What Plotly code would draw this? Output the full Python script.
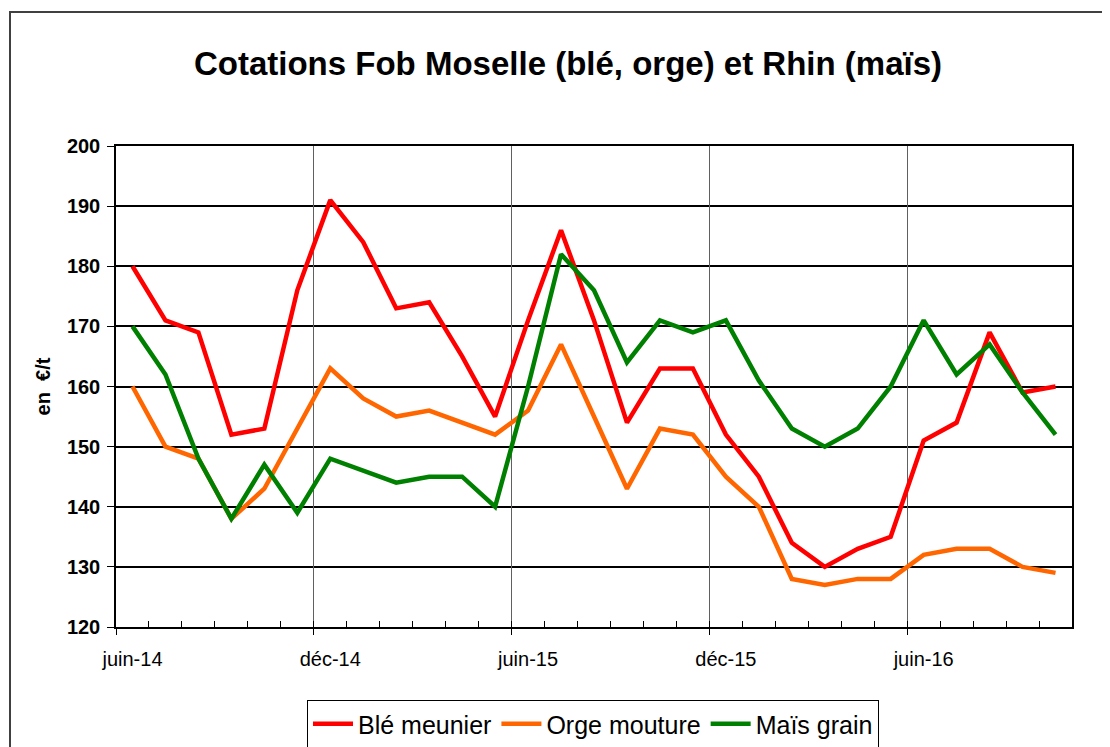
import plotly.graph_objects as go

# ---------------- data ----------------
months = ["juin-14", "juil-14", "août-14", "sept-14", "oct-14", "nov-14",
          "déc-14", "janv-15", "févr-15", "mars-15", "avr-15", "mai-15",
          "juin-15", "juil-15", "août-15", "sept-15", "oct-15", "nov-15",
          "déc-15", "janv-16", "févr-16", "mars-16", "avr-16", "mai-16",
          "juin-16", "juil-16", "août-16", "sept-16", "oct-16"]

ble_meunier = [180, 171, 169, 152, 153, 176, 191, 184, 173, 174, 165, 155,
               171, 186, 171, 154, 163, 163, 152, 145, 134, 130, 133, 135,
               151, 154, 169, 159, 160]
orge_mouture = [160, 150, 148, 138, 143, 153, 163, 158, 155, 156, 154, 152,
                156, 167, 155, 143, 153, 152, 145, 140, 128, 127, 128, 128,
                132, 133, 133, 130, 129]
mais_grain = [170, 162, 148, 138, 147, 139, 148, 146, 144, 145, 145, 140,
              160, 182, 176, 164, 171, 169, 171, 161, 153, 150, 153, 160,
              171, 162, 167, 159, 152]

series_names = ["Blé meunier", "Orge mouture", "Maïs grain"]
series_colors = ["#FF0000", "#FF6600", "#008000"]

label_step = 6
y_min, y_max, y_step = 120, 200, 10

title_text = "Cotations Fob Moselle (blé, orge) et Rhin (maïs)"
y_title = "en\u00a0 €/t"

# ---------------- layout geometry (page has an 8px body margin) ----------------
OFF = 8
W, H = 1110 - OFF, 747 - OFF
ML, MT = 116 - OFF, 146 - OFF
MR = W - (1072 - OFF)
MB = H - (627 - OFF)
plot_w = W - ML - MR
plot_h = H - MT - MB

n = len(months)
xs = list(range(n))
x_range = [-0.5, n - 0.5]
label_idx = list(range(0, n, label_step))
label_txt = [months[i] for i in label_idx]
grid_idx = [i - 0.5 for i in label_idx]
minor_idx = [i - 0.5 for i in range(n + 1)]

FONT = "Arial, Liberation Sans, Helvetica, sans-serif"

fig = go.Figure()
for name, vals, col in zip(series_names, [ble_meunier, orge_mouture, mais_grain], series_colors):
    fig.add_trace(go.Scatter(x=xs, y=vals, mode="lines", name=name,
                             line=dict(color=col, width=4.5)))

# invisible traces anchoring the overlaid grid / tick axes
for ax in ["x2", "x3"]:
    fig.add_trace(go.Scatter(x=xs, y=ble_meunier, mode="lines", xaxis=ax,
                             line=dict(width=0), opacity=0, showlegend=False,
                             hoverinfo="skip"))

# outer frame of the chart area
fx0 = (10 - OFF - ML) / plot_w
fx1 = (W + 20 - ML) / plot_w
fy1 = (H - MB - (12 - OFF)) / plot_h
fy0 = (H - MB - (H + 20)) / plot_h

fig.update_layout(
    width=W, height=H,
    margin=dict(l=ML, r=MR, t=MT, b=MB, autoexpand=False),
    paper_bgcolor="white", plot_bgcolor="white",
    font=dict(family=FONT, color="black"),
    title=dict(text=title_text, x=(568 - OFF) / W, xref="container", xanchor="center",
               y=1 - (63 - OFF) / H, yref="container", yanchor="middle",
               font=dict(size=33, family=FONT, weight="bold", color="black")),
    xaxis=dict(range=x_range, tickmode="array", tickvals=label_idx, ticktext=label_txt,
               ticks="", showgrid=False, zeroline=False,
               showline=True, linecolor="black", linewidth=1.5, mirror=True,
               tickfont=dict(size=20, family=FONT, color="black"), ticklabelstandoff=13),
    xaxis2=dict(range=x_range, overlaying="x", anchor="y", side="bottom",
                tickmode="array", tickvals=grid_idx, showticklabels=False,
                ticks="outside", ticklen=7, tickcolor="black", tickwidth=1,
                showgrid=True, gridcolor="#606060", gridwidth=1, zeroline=False,
                showline=False),
    xaxis3=dict(range=x_range, overlaying="x", anchor="y", side="bottom",
                tickmode="array", tickvals=minor_idx, showticklabels=False,
                ticks="inside", ticklen=6, tickcolor="black", tickwidth=1,
                showgrid=False, zeroline=False, showline=False),
    yaxis=dict(range=[y_min, y_max], tickmode="linear", tick0=y_min, dtick=y_step,
               showgrid=True, gridcolor="black", gridwidth=1.5, zeroline=False,
               showline=True, linecolor="black", linewidth=1.5, mirror=True,
               ticks="outside", ticklen=7, tickcolor="black", ticklabelstandoff=3,
               tickfont=dict(size=20, family=FONT, weight="bold", color="black"),
               title=dict(text=y_title, standoff=11,
                          font=dict(size=20, family=FONT, weight="bold", color="black"))),
    legend=dict(orientation="h", x=(593 - OFF - ML) / plot_w, xanchor="center",
                y=(H - MB - (700 - OFF)) / plot_h, yanchor="top",
                bgcolor="white", bordercolor="black", borderwidth=1,
                font=dict(size=25, family=FONT, color="black"),
                itemwidth=40),
    shapes=[dict(type="rect", xref="paper", yref="paper", x0=fx0, x1=fx1, y0=fy0, y1=fy1,
                 line=dict(color="#404040", width=2), fillcolor="rgba(0,0,0,0)",
                 layer="below")],
    showlegend=True,
)

fig.write_html("out.html")
